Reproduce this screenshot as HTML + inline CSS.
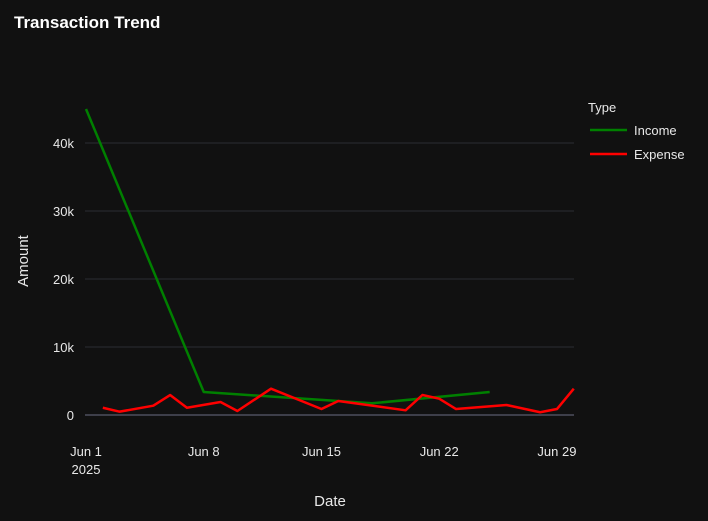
<!DOCTYPE html>
<html><head><meta charset="utf-8"><style>
html,body{margin:0;padding:0;background:#111111;}
svg{display:block;font-family:"Liberation Sans",sans-serif;}
</style></head><body>
<svg id="chart" width="708" height="521">
<rect width="708" height="521" fill="#111111"/>
<text x="14" y="28" fill="#ffffff" font-size="17" font-weight="bold">Transaction Trend</text>
<g id="grid"></g><g id="lines"></g><g id="xt"></g><g id="yt"></g>
<text x="28" y="261" fill="#e8e8e8" font-size="15" text-anchor="middle" transform="rotate(-90 28 261)">Amount</text>
<text x="330" y="506" fill="#e8e8e8" font-size="15" text-anchor="middle">Date</text>
<g>
<text x="588" y="112" fill="#e8e8e8" font-size="13">Type</text>
<g><line x1="590" y1="130" x2="627" y2="130" stroke="#008000" stroke-width="2.5"/><text x="634" y="135" fill="#e8e8e8" font-size="13">Income</text></g>
<g><line x1="590" y1="154" x2="627" y2="154" stroke="#ff0000" stroke-width="2.5"/><text x="634" y="159" fill="#e8e8e8" font-size="13">Expense</text></g>
</g>
</svg>
<script>
const incomeDays=[1,8,18,25];
const incomeValues=[45000,3380,1720,3380];
const expenseDays=[2,3,5,6,7,9,10,12,15,16,20,21,22,23,26,28,29,30];
const expenseValues=[1070,490,1370,2940,1070,1910,590,3870,880,2060,690,2940,2400,880,1470,400,880,3870];
const yTicks=[0,10000,20000,30000,40000];
const yTickLabels=["0","10k","20k","30k","40k"];
const xTickDays=[1,8,15,22,29];
const xTickLabels=["Jun 1","Jun 8","Jun 15","Jun 22","Jun 29"];
const NS="http://www.w3.org/2000/svg";
function X(d){return 86+(d-1)*16.82;}
function Y(v){return 415-v/10000*68;}
const grid=document.getElementById('grid'),lines=document.getElementById('lines'),xt=document.getElementById('xt'),yt=document.getElementById('yt');
yTicks.forEach((v,i)=>{
 const l=document.createElementNS(NS,'line');
 
 
 l.setAttribute('x1',85);l.setAttribute('x2',574);l.setAttribute('y1',Y(v));l.setAttribute('y2',Y(v));
 l.setAttribute('stroke',v===0?'#3e3f4a':'#2c2d33');l.setAttribute('stroke-width',v===0?2:1);
 grid.appendChild(l);
 const t=document.createElementNS(NS,'text');
 
 
 t.setAttribute('x',74);t.setAttribute('y',Y(v)+5);t.setAttribute('text-anchor','end');
 t.setAttribute('fill','#e8e8e8');t.setAttribute('font-size','13');t.textContent=yTickLabels[i];
 yt.appendChild(t);
});
xTickDays.forEach((d,i)=>{
 const t=document.createElementNS(NS,'text');
 
 
 t.setAttribute('x',X(d));t.setAttribute('y',456);t.setAttribute('text-anchor','middle');
 t.setAttribute('fill','#e8e8e8');t.setAttribute('font-size','13');t.textContent=xTickLabels[i];
 xt.appendChild(t);
});
const yr=document.createElementNS(NS,'text');


yr.setAttribute('x',X(1));yr.setAttribute('y',474);yr.setAttribute('text-anchor','middle');
yr.setAttribute('fill','#e8e8e8');yr.setAttribute('font-size','13');yr.textContent='2025';
xt.appendChild(yr);
function line(days,vals,color,name){
 const p=document.createElementNS(NS,'polyline');
 
 
 p.setAttribute('points',days.map((d,i)=>X(d)+','+Y(vals[i])).join(' '));
 p.setAttribute('fill','none');p.setAttribute('stroke',color);p.setAttribute('stroke-width','2.5');p.setAttribute('stroke-linejoin','round');
 lines.appendChild(p);
}
line(incomeDays,incomeValues,'#008000','income-line');
line(expenseDays,expenseValues,'#ff0000','expense-line');
</script>
</body></html>
